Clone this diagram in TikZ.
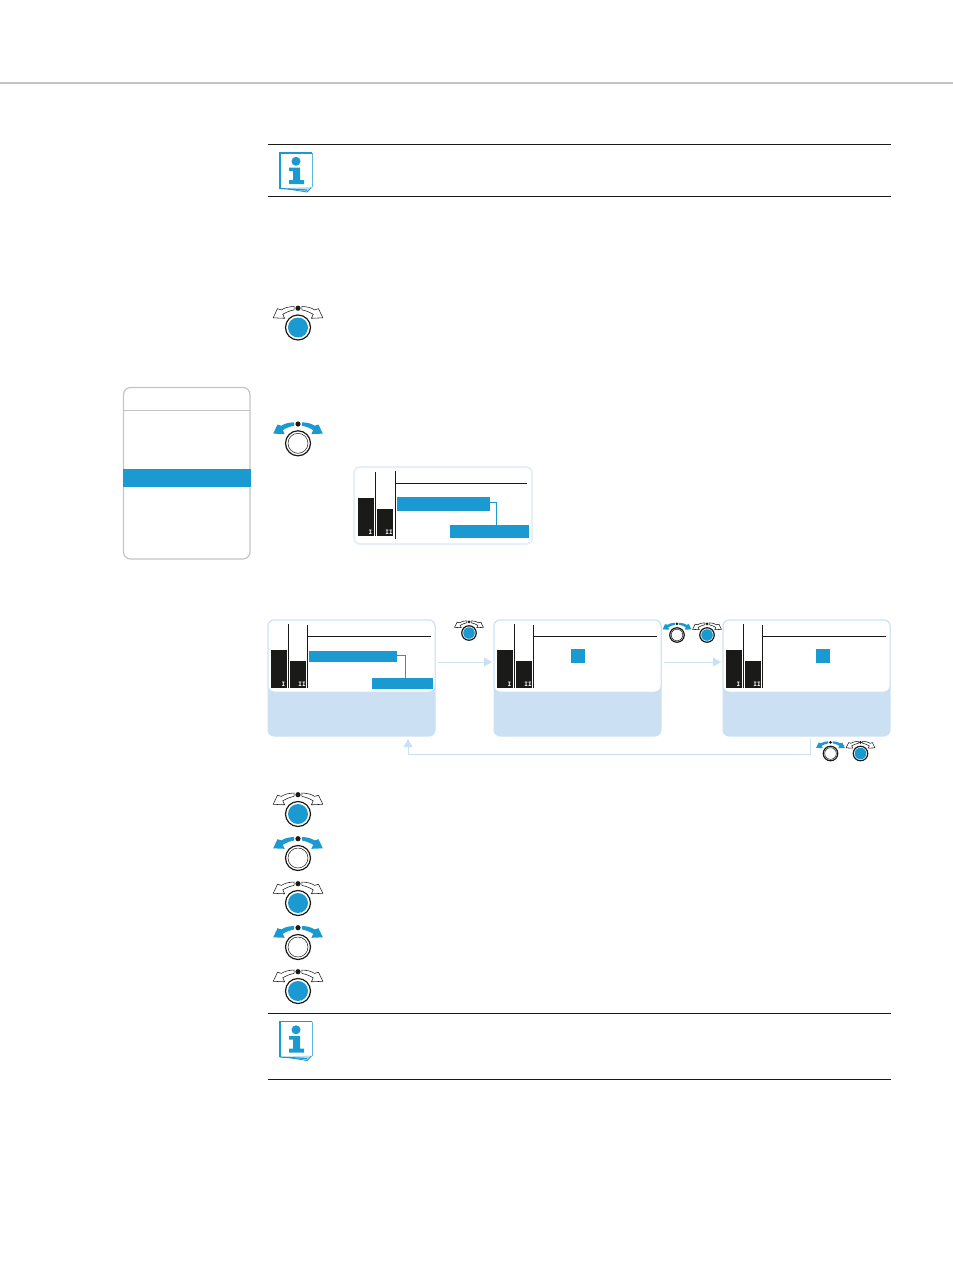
\documentclass[tikz,border=0pt]{standalone}
\usepackage{amsmath,amssymb}
\usepackage{fontspec}
\usetikzlibrary{arrows.meta}
\newfontfamily\tagfont{DejaVu Sans Mono}
\definecolor{knobblue}{HTML}{1B9AD2}
\definecolor{panelblue}{HTML}{CCE0F4}
\definecolor{ink}{HTML}{1A1A18}
\definecolor{rule}{HTML}{C4C4C4}
\newcommand{\knobarrow}{(-3.8,-21) .. controls (-9,-20.8) and (-13,-20) .. (-16.6,-17.6) -- (-20.5,-18.8) -- (-24.8,-9.7) -- (-13.4,-9.2) -- (-15.2,-13.2) .. controls (-12,-15.2) and (-8,-16.8) .. (-3.8,-17.6) -- cycle}

\begin{document}
\begin{tikzpicture}[x=1pt, y=-1pt, >={Triangle[length=8pt, width=9pt]},
	panel/.style={draw=panelblue, fill=panelblue, line width=1pt, rounded corners=6pt, inner sep=0pt, outer sep=0pt, anchor=north west, minimum width=167pt, minimum height=116pt},
	screen/.style={draw=panelblue, fill=white, line width=1pt, rounded corners=6pt, inner sep=0pt, outer sep=0pt, anchor=north west, minimum width=167pt, minimum height=72pt},
	bar/.style={fill=ink, inner sep=0pt, outer sep=0pt, anchor=south west, minimum width=#1},
	level/.style={fill=knobblue, inner sep=0pt, outer sep=0pt, anchor=north west},
	tag/.style={text=white, inner sep=0pt, font=\fontsize{6}{6}\selectfont\tagfont\bfseries},
	trace/.style={ink, line width=1pt},
	tie/.style={knobblue, line width=1pt},
	flow/.style={panelblue, line width=1pt, ->},
	knobpress/.pic={
		\draw[ink, fill=white, line width=.55pt] \knobarrow;
		\draw[ink, fill=white, line width=.55pt, xscale=-1] \knobarrow;
		\fill[ink] (0,-19.3) circle (2.6);
		\draw[ink, fill=white, line width=1.2pt] (0,0) circle (12.5);
		\fill[knobblue] (0,0) circle (10);
	},
	knobturn/.pic={
		\fill[knobblue] \knobarrow;
		\fill[knobblue, xscale=-1] \knobarrow;
		\fill[ink] (0,-19.3) circle (2.6);
		\draw[ink, fill=white, line width=1.2pt] (0,0) circle (12.5);
		\draw[ink, line width=.5pt] (0,0) circle (10);
	},
	meters/.pic={
		\node[bar=16pt, minimum height=38pt] (-barA) at (0,0) {};
		\node[bar=16pt, minimum height=27pt] (-barB) at (19,0) {};
		\draw[trace] (17.5,-64) -- (17.5,0);
		\node[tag] (-tagA) at (12.5,-4) {I};
		\node[tag] (-tagB) at (31,-4) {II};
	},
	infosign/.pic={
		\fill[knobblue!30] (6,35) -- (27,39) -- (31.5,34) -- cycle;
		\draw[knobblue, line width=.8pt] (8,36) -- (27,39) -- (31.5,34.5);
		\draw[knobblue!70, line width=.8pt] (32,0) -- (32,34);
		\draw[knobblue, line width=1.2pt] (0,35.5) -- (0,0) -- (32,0);
		\draw[knobblue, line width=1.2pt] (0,35.5) -- (27,37);
		\fill[knobblue] (16,8.3) circle (4.5);
		\fill[knobblue] (9,14.5) -- (20,14.5) -- (20,27) -- (24,27) -- (24,31) -- (9,31) -- (9,27) -- (13,27) -- (13,18) -- (9,18) -- cycle;
	}]
	\useasboundingbox (0,0) rectangle (953,1283);
	% page head and notes
	\draw[rule, line width=2pt] (0,83) -- (953,83);
	\draw[ink, line width=.8pt] (268,144.5) -- (891,144.5);
	\draw[ink, line width=.8pt] (268,196.5) -- (891,196.5);
	\pic (infoA) at (280,153) {infosign};
	\draw[ink, line width=.8pt] (268,1013.5) -- (891,1013.5);
	\draw[ink, line width=.8pt] (268,1079.5) -- (891,1079.5);
	\pic (infoB) at (280,1021.5) {infosign};
	% menu
	\draw[rule, line width=1.2pt, rounded corners=7pt] (123.5,387.5) rectangle (250,559);
	\draw[rule, line width=1pt] (123.5,410.5) -- (250,410.5);
	\node[level, minimum width=128pt, minimum height=18.5pt] (menuRow) at (122.5,468.5) {};
	% knobs of the first steps
	\pic (stepA) at (298,327.5) {knobpress};
	\pic (stepB) at (298,443.3) {knobturn};
	% large display
	\node[screen, draw=panelblue!50, line width=2pt, minimum width=178pt, minimum height=77pt] (bigScreen) at (354,467) {};
	\pic (bigMeters) at (358,536) {meters};
	\draw[trace] (395.5,471) -- (395.5,539);
	\draw[trace] (396,483.5) -- (527,483.5);
	\node[level, minimum width=93pt, minimum height=14pt] (bigHigh) at (397,497) {};
	\node[level, minimum width=79pt, minimum height=13pt] (bigLow) at (450,525) {};
	\draw[tie] ([yshift=2pt]bigHigh.east) -| ([xshift=7pt]bigLow.north);
	% three panels
	\node[panel] (panelA) at (268,620) {};
	\node[screen] (screenA) at (268,620) {};
	\pic (metersA) at (271,688) {meters};
	\draw[trace] (307.5,625) -- (307.5,688);
	\draw[trace] (308,636) -- (431,636);
	\node[level, minimum width=88pt, minimum height=11pt] (highA) at (309,651) {};
	\node[level, minimum width=61pt, minimum height=11pt] (lowA) at (372,678) {};
	\draw[tie] ([yshift=1pt]highA.east) -| ([xshift=3pt]lowA.north);
	\node[panel] (panelB) at (494,620) {};
	\node[screen] (screenB) at (494,620) {};
	\pic (metersB) at (497,688) {meters};
	\draw[trace] (533.5,625) -- (533.5,688);
	\draw[trace] (534,636) -- (657,636);
	\node[level, minimum size=14pt] (markB) at (571,649) {};
	\node[panel] (panelC) at (723,620) {};
	\node[screen] (screenC) at (723,620) {};
	\pic (metersC) at (726,688) {meters};
	\draw[trace] (762.5,625) -- (762.5,688);
	\draw[trace] (763,636) -- (886,636);
	\node[level, minimum size=14pt] (markC) at (816,649) {};
	% flow between the panels
	\draw[flow, shorten <=3pt, shorten >=2pt] ([yshift=16pt]panelA.east) -- ([yshift=16pt]panelB.west);
	\draw[flow, shorten <=3pt, shorten >=2pt] ([yshift=16pt]panelB.east) -- ([yshift=16pt]panelC.west);
	\draw[flow, shorten <=3pt, shorten >=3pt] ([xshift=3.5pt]panelC.south) |- ([xshift=56.5pt, yshift=-18pt]panelA.south) -- ([xshift=56.5pt]panelA.south);
	\pic[scale=.58] (smallA) at (469,633) {knobpress};
	\pic[scale=.58] (smallB) at (677,635) {knobturn};
	\pic[scale=.58] (smallC) at (707,635) {knobpress};
	\pic[scale=.58] (smallD) at (830.5,753.5) {knobturn};
	\pic[scale=.58] (smallE) at (860.5,753.5) {knobpress};
	% knobs of the list
	\pic (listA) at (298,814) {knobpress};
	\pic (listB) at (298,858) {knobturn};
	\pic (listC) at (298,903) {knobpress};
	\pic (listD) at (298,947) {knobturn};
	\pic (listE) at (298,991) {knobpress};
\end{tikzpicture}
\end{document}
